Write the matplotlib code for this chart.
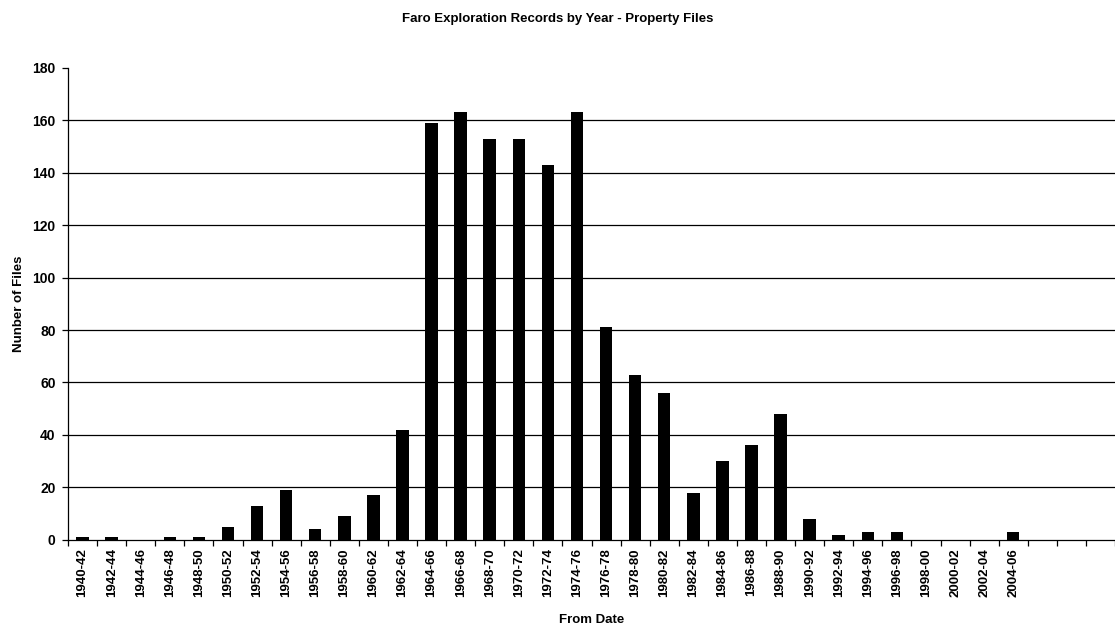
import matplotlib
matplotlib.use("Agg")
import matplotlib.pyplot as plt
import numpy as np

plt.rcParams['font.family'] = ['Liberation Sans', 'DejaVu Sans']
plt.rcParams['font.weight'] = 'bold'

periods = ["1940-42", "1942-44", "1944-46", "1946-48", "1948-50", "1950-52", "1952-54",
           "1954-56", "1956-58", "1958-60", "1960-62", "1962-64", "1964-66", "1966-68",
           "1968-70", "1970-72", "1972-74", "1974-76", "1976-78", "1978-80", "1980-82",
           "1982-84", "1984-86", "1986-88", "1988-90", "1990-92", "1992-94", "1994-96",
           "1996-98", "1998-00", "2000-02", "2002-04", "2004-06", "", "", ""]
files = [1, 1, 0, 1, 1, 5, 13,
         19, 4, 9, 17, 42, 159, 163,
         153, 153, 143, 163, 81, 63, 56,
         18, 30, 36, 48, 8, 2, 3,
         3, 0, 0, 0, 3, 0, 0, 0]

fig = plt.figure(figsize=(11.15, 6.27), dpi=100)
ax = fig.add_axes([0.061, 0.139, 0.939, 0.753])

x = np.arange(len(periods))
ax.bar(x, files, width=0.43, color='black', zorder=3)

ax.set_xlim(-0.5, len(periods) - 0.5)
ax.set_ylim(0, 180)
ax.set_yticks(range(0, 181, 20))
for y in range(20, 180, 20):
    ax.axhline(y, color='black', lw=0.9, zorder=1)

# 标签在中间, 刻度在分界处
ax.set_xticks(x)
ax.set_xticklabels(periods, rotation=90, fontsize=9.5, fontweight='bold')
ax.set_xticks(np.arange(-0.5, len(periods)), minor=True)
ax.tick_params(axis='x', which='major', length=0, pad=6)
ax.tick_params(axis='x', which='minor', length=4, direction='out', width=0.9)
ax.tick_params(axis='y', length=4, direction='out', width=0.9, labelsize=10, pad=5)
for lab in ax.get_yticklabels():
    lab.set_fontweight('bold')

ax.spines['top'].set_visible(False)
ax.spines['right'].set_visible(False)
ax.spines['left'].set_linewidth(0.9)
ax.spines['bottom'].set_linewidth(0.9)

ax.set_ylabel("Nunber of Files", fontsize=9.5, fontweight='bold', labelpad=5)
ax.set_xlabel("From Date", fontsize=9.5, fontweight='bold', labelpad=12)
fig.suptitle("Faro Exploration Records by Year - Property Files", fontsize=9.5,
             fontweight='bold', y=0.98)

fig.savefig("out.png", dpi=100)
